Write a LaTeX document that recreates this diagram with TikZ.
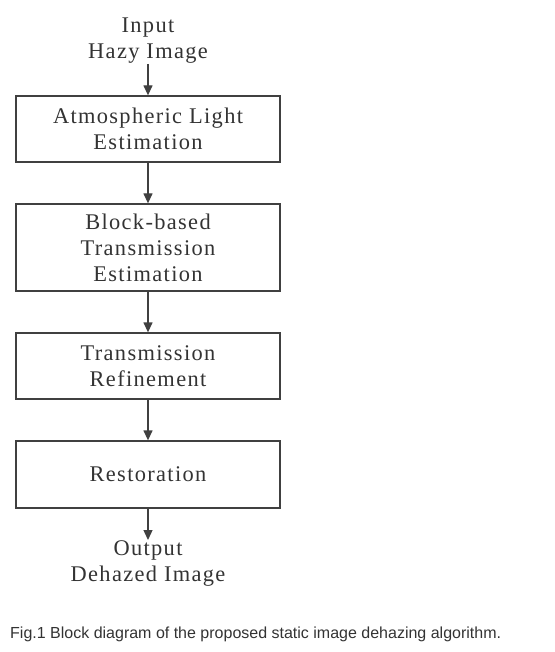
\documentclass[tikz,border=0pt]{standalone}
\usepackage{fontspec}
\setmainfont{Liberation Serif}[LetterSpace=6]
\newfontfamily\capfont{Liberation Sans}
\usetikzlibrary{arrows.meta}
\definecolor{ink}{HTML}{333333}
\definecolor{linec}{HTML}{404040}
\begin{document}
\begin{tikzpicture}[x=1pt,y=-1pt,
  stagebox/.style={draw=linec,line width=1.3pt,minimum width=264pt,inner sep=0pt,text=ink,align=center,font=\fontsize{22.4}{26}\selectfont},
  plain/.style={text=ink,align=center,inner sep=0pt,font=\fontsize{22.4}{26}\selectfont},
  flow/.style={draw=linec,line width=1.3pt,-{Triangle[length=10pt,width=9pt]}}]
\useasboundingbox (0,0) rectangle (554,652);
\node[plain] (in) at (148,41) {Input\\Hazy Image};
\node[stagebox,minimum height=66pt] (b1) at (148,129) {Atmospheric Light\\Estimation};
\node[stagebox,minimum height=87pt] (b2) at (148,247.5) {Block-based\\Transmission\\Estimation};
\node[stagebox,minimum height=66pt] (b3) at (148,366) {Transmission\\Refinement};
\node[stagebox,minimum height=67pt] (b4) at (148,474.5) {Restoration};
\node[plain] (out) at (148,563) {Output\\Dehazed Image};
\coordinate (inb) at (148,64);
\coordinate (outt) at (148,540);
\draw[flow] (inb) -- (b1.north);
\draw[flow] (b1) -- (b2);
\draw[flow] (b2) -- (b3);
\draw[flow] (b3) -- (b4);
\draw[flow] (b4.south) -- (outt);
\node[anchor=west,inner sep=0pt,text=ink,font=\capfont\fontsize{16}{19}\selectfont] (cap) at (10,634) {Fig.1 Block diagram of the proposed static image dehazing algorithm.};
\end{tikzpicture}
\end{document}
